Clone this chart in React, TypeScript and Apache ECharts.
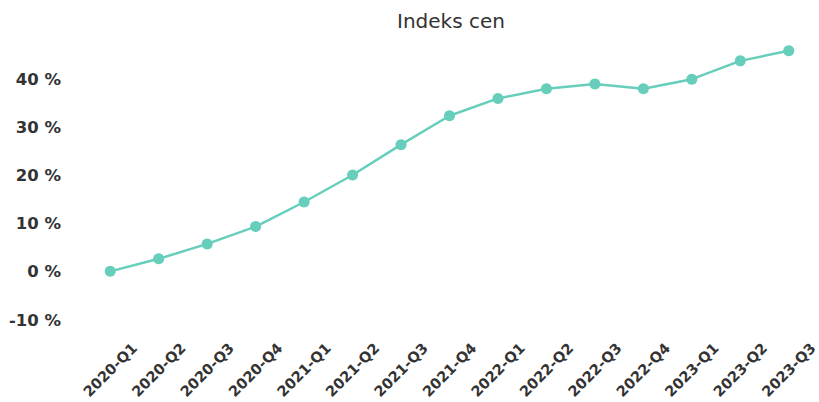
import React, { useEffect, useRef } from "react";
import * as echarts from "echarts";

const categories = [
  "2020-Q1", "2020-Q2", "2020-Q3", "2020-Q4",
  "2021-Q1", "2021-Q2", "2021-Q3", "2021-Q4",
  "2022-Q1", "2022-Q2", "2022-Q3", "2022-Q4",
  "2023-Q1", "2023-Q2", "2023-Q3",
];
const priceIndex = [0.1, 2.7, 5.8, 9.4, 14.5, 20.1, 26.4, 32.4, 36.0, 38.0, 39.0, 38.0, 40.0, 43.8, 45.9];
const yMin = -10;
const yMax = 50;
const yInterval = 10;
const title = "Indeks cen";

export default function App() {
  const ref = useRef<HTMLDivElement>(null);
  useEffect(() => {
    if (!ref.current) return;
    const chart = echarts.init(ref.current, undefined, { renderer: "svg" });
    const font = "'DejaVu Sans', sans-serif";
    chart.setOption({
      animation: false,
      title: {
        text: title,
        left: 397,
        top: 11,
        padding: 0,
        textStyle: { fontFamily: font, fontSize: 20, fontWeight: "normal", color: "#333" },
      },
      grid: { left: 86, right: 6, top: 31, bottom: 82, containLabel: false, outerBoundsMode: "none" },
      xAxis: {
        type: "category",
        data: categories,
        boundaryGap: true,
        axisLine: { show: false },
        axisTick: { show: false },
        splitLine: { show: false },
        axisLabel: {
          interval: 0,
          rotate: 45,
          align: "center",
          verticalAlign: "middle",
          margin: 50,
          fontFamily: font,
          fontSize: 14.5,
          fontWeight: "bold",
          color: "#333",
        },
      },
      yAxis: {
        type: "value",
        min: yMin,
        max: yMax,
        interval: yInterval,
        axisLine: { show: false },
        axisTick: { show: false },
        splitLine: { show: false },
        axisLabel: {
          showMaxLabel: false,
          margin: 25,
          fontFamily: font,
          fontSize: 16.5,
          fontWeight: "bold",
          color: "#333",
          formatter: (v: number) => `${v} %`,
        },
      },
      series: [
        {
          type: "line",
          data: priceIndex,
          symbol: "circle",
          symbolSize: 11,
          lineStyle: { color: "#66CEBA", width: 2.5 },
          itemStyle: { color: "#66CEBA" },
        },
      ],
    });
    return () => chart.dispose();
  }, []);
  return <div ref={ref} style={{ width: 819, height: 402, position: "absolute", left: 0, top: 0 }} />;
}
